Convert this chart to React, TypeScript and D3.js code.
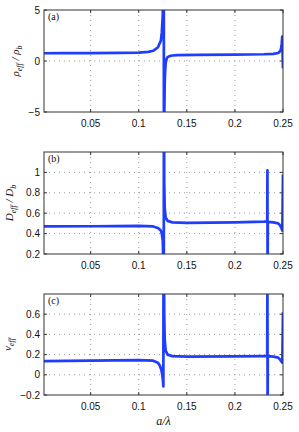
import React from "react";
import * as d3 from "d3";

// ---------- data ----------
const xTicks = [0.05, 0.1, 0.15, 0.2, 0.25];
const xTickLabels = ["0.05", "0.1", "0.15", "0.2", "0.25"];
const xDomain = [0.0015, 0.25];

// (a) rho_eff / rho_b
const rhoX = [0.0015, 0.02, 0.05, 0.08, 0.1, 0.11, 0.115, 0.12, 0.123, 0.124, 0.125, 0.1256, 0.126,
  0.1262, 0.1265, 0.127, 0.1275, 0.128, 0.129, 0.13, 0.132, 0.135, 0.14, 0.16, 0.2, 0.23, 0.24, 0.245, 0.247, 0.248, 0.2487, 0.2492, 0.25];
const rhoY = [0.76, 0.77, 0.78, 0.8, 0.83, 0.9, 1.0, 1.35, 2.0, 2.8, 4.5, 10, 30,
  -30, -6, -2.2, -0.9, -0.2, 0.2, 0.38, 0.48, 0.54, 0.58, 0.6, 0.62, 0.66, 0.7, 0.78, 0.95, 1.2, 1.7, 2.4, -0.7];
const rhoTicks = [-5, 0, 5];
const rhoTickLabels = ["\u22125", "0", "5"];

// (b) D_eff / D_b
const dX = [0.0015, 0.05, 0.1, 0.115, 0.12, 0.123, 0.124, 0.125, 0.1256, 0.126,
  0.1262, 0.1265, 0.127, 0.128, 0.13, 0.135, 0.15, 0.2, 0.23, 0.2336, 0.2338, 0.234, 0.2342, 0.24, 0.245, 0.247, 0.2485, 0.2493, 0.25];
const dY = [0.47, 0.472, 0.475, 0.47, 0.455, 0.43, 0.4, 0.33, 0.1, -1,
  3, 0.9, 0.65, 0.56, 0.525, 0.51, 0.505, 0.51, 0.517, 0.52, 1.02, -0.2, 0.515, 0.51, 0.5, 0.48, 0.45, 0.43, 0.98];
const dTicks = [0.2, 0.4, 0.6, 0.8, 1];
const dTickLabels = ["0.2", "0.4", "0.6", "0.8", "1"];

// (c) nu_eff
const nuX = [0.0015, 0.05, 0.1, 0.115, 0.12, 0.122, 0.1235, 0.1245, 0.1252, 0.1256, 0.1258,
  0.1262, 0.1265, 0.127, 0.128, 0.13, 0.135, 0.15, 0.2, 0.23, 0.2336, 0.2338, 0.234, 0.2342, 0.24, 0.245, 0.247, 0.2485, 0.2493, 0.25];
const nuY = [0.135, 0.14, 0.145, 0.14, 0.12, 0.09, 0.05, 0.0, -0.06, -0.115, 1.5,
  1.2, 0.6, 0.35, 0.24, 0.2, 0.185, 0.18, 0.182, 0.185, 0.186, 1.0, -0.4, 0.185, 0.18, 0.17, 0.15, 0.13, 0.12, 0.62];
const nuTicks = [-0.2, 0, 0.2, 0.4, 0.6];
const nuTickLabels = ["\u22120.2", "0", "0.2", "0.4", "0.6"];

// ---------- layout ----------
const W = 299, H = 432;
const LEFT = 44, RIGHT = 283;
const BLUE = "#1f3dff";
const AXIS = "#333";

type PanelProps = {
  id: string; top: number; bottom: number;
  xs: number[]; ys: number[]; yDomain: [number, number];
  yTicks: number[]; yTickLabels: string[]; tag: string;
  yLabel: React.ReactNode; yLabelX: number;
};

function Panel(p: PanelProps) {
  const x = d3.scaleLinear().domain(xDomain).range([LEFT, RIGHT]);
  const y = d3.scaleLinear().domain(p.yDomain).range([p.bottom, p.top]);
  const pts = p.xs.map((v, i) => [v, p.ys[i]] as [number, number]);
  const line = d3.line<[number, number]>().x(d => x(d[0])).y(d => y(d[1]));
  const tl = 3;
  return (
    <g>
      <defs>
        <clipPath id={"clip" + p.id}>
          <rect x={LEFT} y={p.top} width={RIGHT - LEFT} height={p.bottom - p.top} />
        </clipPath>
      </defs>
      {/* grid */}
      {xTicks.filter(t => t < 0.25).map(t => (
        <line key={"gx" + t} x1={x(t)} x2={x(t)} y1={p.top} y2={p.bottom}
          stroke="#9a9a9a" strokeWidth={1} strokeDasharray="1,4" />
      ))}
      {p.yTicks.filter(t => y(t) > p.top + 1 && y(t) < p.bottom - 1).map(t => (
        <line key={"gy" + t} x1={LEFT} x2={RIGHT} y1={y(t)} y2={y(t)}
          stroke="#9a9a9a" strokeWidth={1} strokeDasharray="1,4" />
      ))}
      {/* ticks */}
      {xTicks.map(t => (
        <g key={"tx" + t}>
          <line x1={x(t)} x2={x(t)} y1={p.bottom} y2={p.bottom - tl} stroke={AXIS} />
          <line x1={x(t)} x2={x(t)} y1={p.top} y2={p.top + tl} stroke={AXIS} />
        </g>
      ))}
      {p.yTicks.map(t => (
        <g key={"ty" + t}>
          <line x1={LEFT} x2={LEFT + tl} y1={y(t)} y2={y(t)} stroke={AXIS} />
          <line x1={RIGHT} x2={RIGHT - tl} y1={y(t)} y2={y(t)} stroke={AXIS} />
        </g>
      ))}
      {/* curve */}
      <path d={line(pts) || ""} fill="none" stroke={BLUE} strokeWidth={2.7}
        strokeLinejoin="round" clipPath={`url(#clip${p.id})`} />
      {/* box */}
      <rect x={LEFT} y={p.top} width={RIGHT - LEFT} height={p.bottom - p.top}
        fill="none" stroke={AXIS} strokeWidth={1} />
      {/* tick labels */}
      {xTicks.map((t, i) => (
        <text key={"lx" + t} x={x(t)} y={p.bottom + 15} textAnchor="middle"
          fontFamily="Liberation Sans, Arial, sans-serif" fontSize={10} fill="#111">{xTickLabels[i]}</text>
      ))}
      {p.yTicks.map((t, i) => (
        <text key={"ly" + t} x={LEFT - 4} y={y(t) + 3.5} textAnchor="end"
          fontFamily="Liberation Sans, Arial, sans-serif" fontSize={10} fill="#111">{p.yTickLabels[i]}</text>
      ))}
      {/* panel tag */}
      <text x={LEFT + 4} y={p.top + 10} fontFamily="Liberation Serif, Times New Roman, serif"
        fontSize={10} fill="#111">{p.tag}</text>
      {/* y label */}
      <text transform={`translate(${p.yLabelX},${(p.top + p.bottom) / 2}) rotate(-90)`}
        textAnchor="middle" fontFamily="Liberation Serif, Times New Roman, serif"
        fontStyle="italic" fontSize={11} fill="#111">{p.yLabel}</text>
    </g>
  );
}

export default function App() {
  return (
    <svg width={W} height={H} style={{ position: "absolute", left: 0, top: 0, background: "#fff" }}>
      <rect x={0} y={0} width={W} height={H} fill="#fff" />
      <Panel id="a" top={10} bottom={112} xs={rhoX} ys={rhoY} yDomain={[-5, 5]}
        yTicks={rhoTicks} yTickLabels={rhoTickLabels} tag="(a)" yLabelX={19}
        yLabel={<>ρ<tspan fontSize={8} dy={2.5}>eff</tspan><tspan dy={-2.5}> / ρ</tspan><tspan fontSize={8} dy={2.5}>b</tspan></>} />
      <Panel id="b" top={152} bottom={254} xs={dX} ys={dY} yDomain={[0.2, 1.2]}
        yTicks={dTicks} yTickLabels={dTickLabels} tag="(b)" yLabelX={13}
        yLabel={<>D<tspan fontSize={8} dy={2.5}>eff</tspan><tspan dy={-2.5}> / D</tspan><tspan fontSize={8} dy={2.5}>b</tspan></>} />
      <Panel id="c" top={294} bottom={395} xs={nuX} ys={nuY} yDomain={[-0.2, 0.8]}
        yTicks={nuTicks} yTickLabels={nuTickLabels} tag="(c)" yLabelX={11}
        yLabel={<>ν<tspan fontSize={8} dy={2.5}>eff</tspan></>} />
      <text x={(LEFT + RIGHT) / 2} y={425} textAnchor="middle"
        fontFamily="Liberation Serif, Times New Roman, serif" fontStyle="italic" fontSize={12} fill="#111">a/λ</text>
    </svg>
  );
}
